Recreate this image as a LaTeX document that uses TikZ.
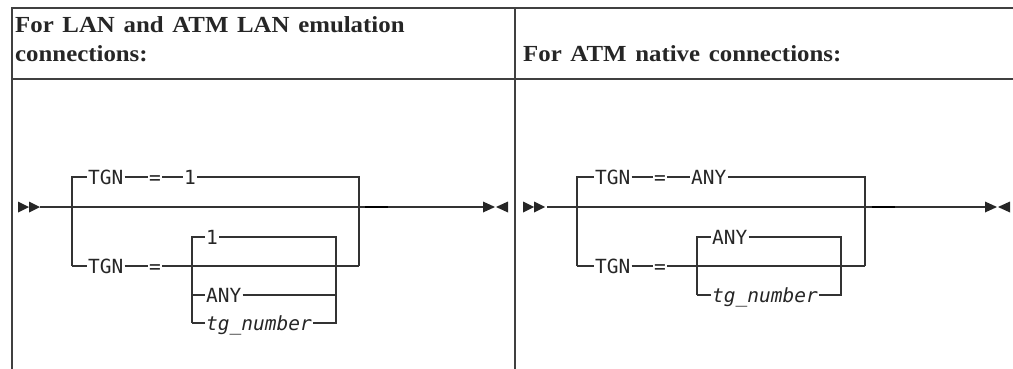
\documentclass[tikz,border=0pt]{standalone}
\usepackage{fontspec}
\setmonofont{DejaVu Sans Mono}
\newfontfamily\headfont[FakeStretch=1.08,WordSpace=1.4]{Liberation Serif}

\tikzset{
  dblstart/.pic={\fill[black!85] (0,-5.5) -- (11,0) -- (0,5.5) -- cycle (11,-5.5) -- (22,0) -- (11,5.5) -- cycle;},
  dblend/.pic={\fill[black!85] (0,-5.5) -- (12,0) -- (0,5.5) -- cycle (25,-5.5) -- (13,0) -- (25,5.5) -- cycle;}
}

\begin{document}
\begin{tikzpicture}[x=1pt,y=-1pt,
  rail/.style={black!80, line width=1.25pt},
  heavy/.style={black, line width=2.2pt},
  frame/.style={black!75, line width=1.3pt},
  kw/.style={font=\fontsize{19.5}{19.5}\selectfont\ttfamily, inner xsep=1pt, inner ysep=0pt,
    text height=14pt, text depth=0pt, anchor=west, text=black!85},
  var/.style={kw, font=\fontsize{19.5}{19.5}\selectfont\ttfamily\itshape},
  head/.style={font=\fontsize{23}{29}\headfont\bfseries, anchor=base west, inner sep=0pt, text=black!85}]
  \useasboundingbox (0,0) rectangle (1013,369);

  % Table frame
  \draw[frame] (1013,8) -- (12,8) -- (12,369);
  \draw[frame] (12,79) -- (1013,79);
  \draw[frame] (515,8) -- (515,369);

  % Headings
  \node[head] (headl1) at (15,33) {For LAN and ATM LAN emulation};
  \node[head] (headl2) at (15,62) {connections:};
  \node[head] (headr) at (523,62) {For ATM native connections:};

  % ---- Left: LAN and ATM LAN emulation ----
  \coordinate (lin) at (40,207);
  \coordinate (lout) at (483,207);
  \draw[rail] (lin) -- (lout);
  \pic at (18,207) {dblstart};
  \pic at (483,207) {dblend};
  \draw[heavy] (365,207) -- (388,207);

  % outer choice
  \coordinate (lo1) at (72,177);
  \coordinate (lo2) at (72,266);
  \coordinate (lo3) at (359,177);
  \coordinate (lo4) at (359,266);
  \node[kw] (ltgn1) at (87,177) {TGN};
  \node[kw] (leq1) at (148,177) {=};
  \node[kw] (lone1) at (183,177) {1};
  \node[kw] (ltgn2) at (87,266) {TGN};
  \node[kw] (leq2) at (148,266) {=};
  \draw[rail] (lo2) -- (lo1) -- (ltgn1) -- (leq1) -- (lone1) -- (lo3) -- (lo4);
  \draw[rail] (lo2) -- (ltgn2) -- (leq2) -- (lo4);

  % inner choice
  \coordinate (li1) at (192,237);
  \coordinate (li2) at (192,323);
  \coordinate (li3) at (336,237);
  \coordinate (li4) at (336,323);
  \coordinate (li5) at (192,295);
  \coordinate (li6) at (336,295);
  \node[kw] (lone2) at (205,237) {1};
  \node[kw] (lany) at (205,295) {ANY};
  \node[var] (lnum) at (205,323) {tg\_number};
  \draw[rail] (li2) -- (li1) -- (lone2) -- (li3) -- (li4) -- (lnum) -- (li2);
  \draw[rail] (li5) -- (lany) -- (li6);

  % ---- Right: ATM native ----
  \coordinate (rin) at (547,207);
  \coordinate (rout) at (985,207);
  \draw[rail] (rin) -- (rout);
  \pic at (523,207) {dblstart};
  \pic at (985,207) {dblend};
  \draw[heavy] (872,207) -- (895,207);

  % outer choice
  \coordinate (ro1) at (577,177);
  \coordinate (ro2) at (577,266);
  \coordinate (ro3) at (865,177);
  \coordinate (ro4) at (865,266);
  \node[kw] (rtgn1) at (594,177) {TGN};
  \node[kw] (req1) at (653,177) {=};
  \node[kw] (rany1) at (690,177) {ANY};
  \node[kw] (rtgn2) at (594,266) {TGN};
  \node[kw] (req2) at (653,266) {=};
  \draw[rail] (ro2) -- (ro1) -- (rtgn1) -- (req1) -- (rany1) -- (ro3) -- (ro4);
  \draw[rail] (ro2) -- (rtgn2) -- (req2) -- (ro4);

  % inner choice
  \coordinate (ri1) at (697,237);
  \coordinate (ri2) at (697,295);
  \coordinate (ri3) at (841,237);
  \coordinate (ri4) at (841,295);
  \node[kw] (rany2) at (711,237) {ANY};
  \node[var] (rnum) at (711,295) {tg\_number};
  \draw[rail] (ri2) -- (ri1) -- (rany2) -- (ri3) -- (ri4) -- (rnum) -- (ri2);

\end{tikzpicture}
\end{document}
